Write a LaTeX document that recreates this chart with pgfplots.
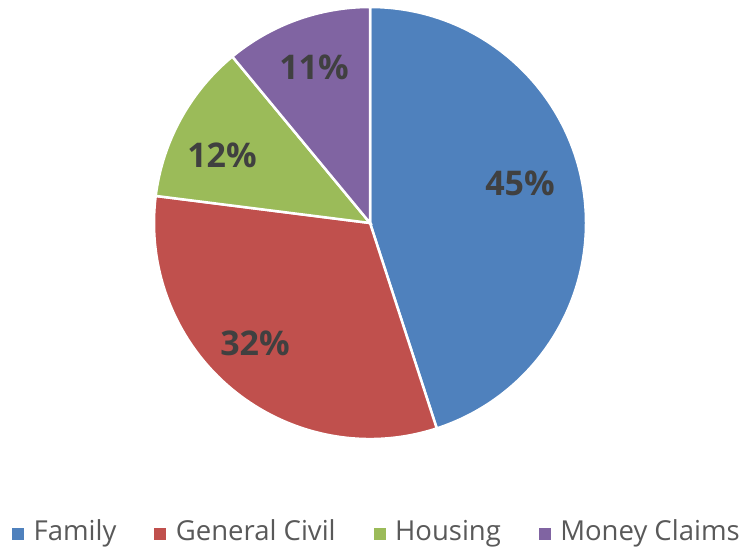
\documentclass[border=0pt]{standalone}
\usepackage{pgfplots}
\pgfplotsset{compat=1.18}
\usepackage{pgfplotstable}
\usepackage{fontspec}
\setmainfont{Open Sans}
\definecolor{pblue}{HTML}{4F81BD}
\definecolor{pred}{HTML}{C0504D}
\definecolor{pgreen}{HTML}{9BBB59}
\definecolor{ppurple}{HTML}{8064A2}
\definecolor{lblgray}{HTML}{404040}
\definecolor{leggray}{HTML}{595959}
\pgfplotstableread{
label value
Family 45
{General Civil} 32
Housing 12
{Money Claims} 11
}\piedata
\begin{document}%
\begin{tikzpicture}
\pgfplotstablegetelem{0}{value}\of\piedata\global\let\vA\pgfplotsretval
\pgfplotstablegetelem{1}{value}\of\piedata\global\let\vB\pgfplotsretval
\pgfplotstablegetelem{2}{value}\of\piedata\global\let\vC\pgfplotsretval
\pgfplotstablegetelem{3}{value}\of\piedata\global\let\vD\pgfplotsretval
\pgfmathsetmacro\aA{90}
\pgfmathsetmacro\aB{\aA-3.6*\vA}
\pgfmathsetmacro\aC{\aB-3.6*\vB}
\pgfmathsetmacro\aD{\aC-3.6*\vC}
\pgfmathsetmacro\aE{\aD-3.6*\vD}
\begin{axis}[
  scale only axis, width=745bp, height=549bp,
  xmin=0, xmax=745, ymin=0, ymax=549, enlargelimits=false,
  hide axis, clip=false,
  legend columns=4,
  legend style={at={(axis cs:376,16)}, anchor=center, draw=none, fill=none,
    inner sep=0pt, font=\fontsize{27.5bp}{32bp}\selectfont, text=leggray,
    /tikz/every even column/.append style={column sep=38bp},
    nodes={inner sep=0pt, text height=20bp, text depth=6bp}},
  legend image code/.code={\fill[#1] (0bp,-6bp) rectangle (11bp,5bp);},
  legend cell align=left,
]
\addlegendimage{pblue}\addlegendentry{\hspace{10bp}Family}
\addlegendimage{pred}\addlegendentry{\hspace{10bp}General Civil}
\addlegendimage{pgreen}\addlegendentry{\hspace{10bp}Housing}
\addlegendimage{ppurple}\addlegendentry{\hspace{10bp}Money Claims}
\fill[pblue, draw=white, line width=2.5bp] (axis cs:370,326) -- ++(\aA:216bp) arc[start angle=\aA, end angle=\aB, radius=216bp] -- cycle;
\fill[pred, draw=white, line width=2.5bp] (axis cs:370,326) -- ++(\aB:216bp) arc[start angle=\aB, end angle=\aC, radius=216bp] -- cycle;
\fill[pgreen, draw=white, line width=2.5bp] (axis cs:370,326) -- ++(\aC:216bp) arc[start angle=\aC, end angle=\aD, radius=216bp] -- cycle;
\fill[ppurple, draw=white, line width=2.5bp] (axis cs:370,326) -- ++(\aD:216bp) arc[start angle=\aD, end angle=\aE, radius=216bp] -- cycle;
\tikzset{lbl/.style={font=\fontsize{34bp}{40bp}\selectfont\bfseries, text=lblgray, inner sep=0pt}}
\node[lbl] at (axis cs:520,366) {\vA\%};
\node[lbl] at (axis cs:255,206) {\vB\%};
\node[lbl] at (axis cs:222,394) {\vC\%};
\node[lbl] at (axis cs:314,482) {\vD\%};
\end{axis}
\pgfresetboundingbox
\path (0,0) rectangle (745bp,549bp);
\end{tikzpicture}%
\end{document}
